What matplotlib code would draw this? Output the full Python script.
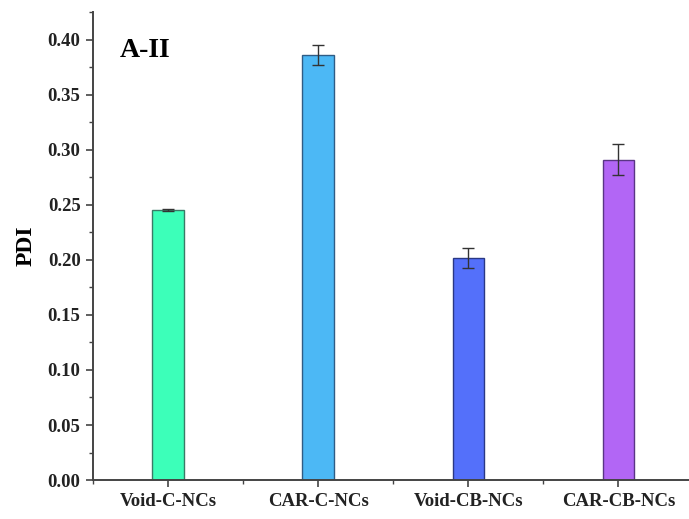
import numpy as np
import matplotlib.pyplot as plt
from matplotlib.ticker import MultipleLocator

# PDI of the four nanocarrier formulations
samples = ["Void-C-NCs", "CAR-C-NCs", "Void-CB-NCs", "CAR-CB-NCs"]
pdi = [0.245, 0.386, 0.202, 0.291]
pdi_err = [0.001, 0.009, 0.009, 0.014]
bar_colors = ["#3CFFB9", "#4CB8F5", "#5470FA", "#B266F5"]
edge_colors = ["#3A7A66", "#2F5C85", "#2A3885", "#5A3585"]

plt.rcParams['font.family'] = ['Liberation Serif', 'DejaVu Serif']
plt.rcParams['font.weight'] = 'bold'

fig = plt.figure(figsize=(6.89, 5.19), dpi=100)
ax = fig.add_axes([0.135, 0.075, 0.865, 0.9017])

x = np.arange(1, len(samples) + 1)
ax.bar(x, pdi, width=0.21, color=bar_colors, edgecolor=edge_colors,
       linewidth=1.0, zorder=2)
ax.errorbar(x, pdi, yerr=pdi_err, fmt='none', ecolor='#333333',
            elinewidth=1.0, capsize=4, capthick=1.0, zorder=3)

ax.set_xlim(0.5, 4.47)
ax.set_ylim(0, 0.425)
ax.set_xticks(x)
ax.set_xticklabels(samples, fontsize=13.5, fontweight='bold')
ax.xaxis.set_minor_locator(plt.FixedLocator([0.5, 1.5, 2.5, 3.5]))
ax.yaxis.set_major_locator(MultipleLocator(0.05))
ax.yaxis.set_minor_locator(MultipleLocator(0.025))
ax.yaxis.set_major_formatter(plt.FormatStrFormatter('%.2f'))
for lbl in ax.get_yticklabels():
    lbl.set_fontweight('bold')
    lbl.set_fontsize(13.5)

ax.tick_params(which='major', direction='out', length=5, width=1.2,
               color='#444444', labelcolor='#222222', pad=4)
ax.tick_params(which='minor', direction='out', length=3, width=1.0,
               color='#444444')

for side in ('top', 'right'):
    ax.spines[side].set_visible(False)
for side in ('left', 'bottom'):
    ax.spines[side].set_linewidth(1.4)
    ax.spines[side].set_color('#444444')

ax.set_ylabel("PDI", fontsize=17, fontweight='bold', labelpad=8)
ax.text(0.045, 0.945, "A-II", transform=ax.transAxes, fontsize=20,
        fontweight='bold', ha='left', va='top')

fig.savefig("out.png", dpi=100)
